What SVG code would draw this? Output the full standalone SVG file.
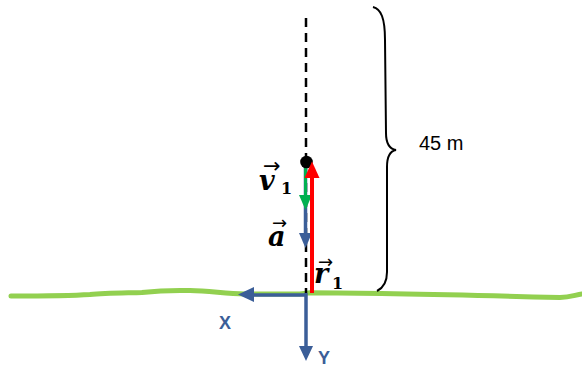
<svg xmlns="http://www.w3.org/2000/svg" width="582" height="369" viewBox="0 0 582 369">
<style>
.math{font-family:"DejaVu Serif","Liberation Serif",serif;font-weight:bold;font-style:italic;font-size:27px;fill:#000}
.sub{font-style:normal;font-size:16px}
.acc{font-family:"DejaVu Sans",sans-serif;font-weight:normal;font-style:normal;font-size:21px}
.acc2{font-family:"DejaVu Sans",sans-serif;font-weight:normal;font-style:normal;font-size:18px}
.axl{font-family:"Liberation Sans",Arial,sans-serif;font-weight:bold;font-size:18px;fill:#3B5E98}
.lbl{font-family:"Liberation Sans",Arial,sans-serif;font-size:20px;fill:#000}
</style>
<rect width="582" height="369" fill="#fff"/>
<g id="ground">
<path d="M11,296 C40,296 75,295.5 90,294.5 C105,293 125,293 142,292.5 C155,291 170,290 190,290.5 C210,291 225,293.5 245,294 L300,294 L310,292.7 C360,292.8 450,294.5 560,297.5 C570,297.5 575,295 582,294" fill="none" stroke="#92D050" stroke-width="5" stroke-linecap="round"/>
</g>
<g id="connectors">
<line x1="306" y1="18" x2="306" y2="293" stroke="#000" stroke-width="2.5" stroke-dasharray="9,6"/>
<path d="M306,295 L250,295" fill="none" stroke="#3B5E98" stroke-width="3.5"/>
<path d="M238,294.5 L254,287 L254,302 Z" fill="#3B5E98"/>
<path d="M306,293 L306,348" fill="none" stroke="#3B5E98" stroke-width="3.5"/>
<path d="M306,361 L299,346 L313,346 Z" fill="#3B5E98"/>
<path d="M305.5,162 L305.5,236" fill="none" stroke="#3B5E98" stroke-width="3.5"/>
<path d="M305.5,248 L299,233 L312,233 Z" fill="#3B5E98"/>
<path d="M305.5,162 L305.5,198" fill="none" stroke="#00B050" stroke-width="3"/>
<path d="M305.5,210 L299,195 L312,195 Z" fill="#00B050"/>
</g>
<g id="particle">
<circle cx="306.5" cy="162" r="6.3" fill="#000"/>
</g>
<g id="r1-arrow">
<path d="M312,293 L312,175" fill="none" stroke="#FF0000" stroke-width="4"/>
<path d="M312,161.5 L304.5,178 L319.5,178 Z" fill="#FF0000"/>
</g>
<g id="brace">
<path d="M373,7 C381,9 385,18 385,40 L386,133 C386,144 390,149 396,150 C390,151 387,156 387,167 L387,272 C387,282 383,288 377,291" fill="none" stroke="#000" stroke-width="2"/>
</g>
<g id="labels">
<text class="lbl" x="419" y="150">45 m</text>
<text class="math"><tspan class="acc" x="263" y="173">→</tspan><tspan x="259" y="190">v</tspan><tspan class="sub" x="281" y="194">1</tspan></text>
<text class="math"><tspan class="acc2" x="272" y="229">→</tspan><tspan x="268" y="246">a</tspan></text>
<text class="math"><tspan class="acc2" x="318" y="268">→</tspan><tspan x="314" y="283">r</tspan><tspan class="sub" x="332" y="289">1</tspan></text>
<text class="axl" x="219" y="329">X</text>
<text class="axl" x="318" y="364">Y</text>
</g>
</svg>
